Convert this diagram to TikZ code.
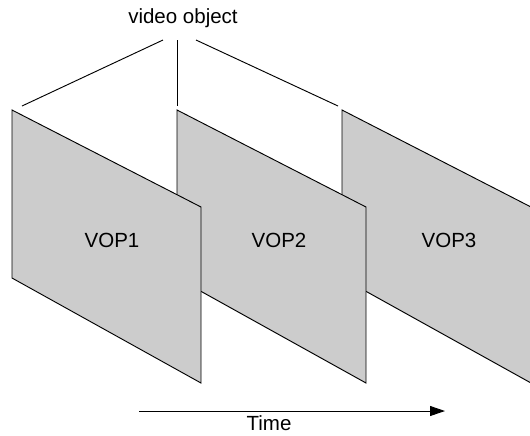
\documentclass[tikz,border=0pt]{standalone}
\usepackage{fontspec}
\setmainfont{Liberation Sans}
\usetikzlibrary{arrows.meta,positioning}
\tikzset{
  panel/.style={draw=black, fill=black!20, line width=0.8pt, line join=miter},
  lbl/.style={font=\fontsize{17.5}{20}\selectfont, inner sep=0pt},
  link/.style={line width=0.8pt},
  timearrow/.style={-{Triangle[length=4.5mm,width=3mm]}, line width=0.8pt}
}
\begin{document}
\begin{tikzpicture}[x=0.03cm, y=-0.03cm]
\useasboundingbox (0,0) rectangle (530,435);
% panels, back to front
\draw[panel] (342,110) coordinate (p3) -- (531,207) -- (531,383) -- (342,278) -- cycle;
\draw[panel] (177,110) coordinate (p2) -- (366,207) -- (366,383) -- (177,278) -- cycle;
\draw[panel] (12,110) coordinate (p1) -- (201,207) -- (201,383) -- (12,278) -- cycle;
\node[lbl] (vop1) at (112,240) {VOP1};
\node[lbl] (vop2) at (279,240) {VOP2};
\node[lbl] (vop3) at (449,240) {VOP3};
% video object
\node[lbl] (vo) at (183,18) {video object};
\coordinate (vl) at (163,40);
\coordinate (vm) at (177,40);
\coordinate (vr) at (196,40);
\coordinate (el) at (22,106);
\coordinate (em) at (177,106);
\coordinate (er) at (338,106);
\draw[link] (vl) -- (el);
\draw[link] (vm) -- (em);
\draw[link] (vr) -- (er);
% time
\coordinate (t0) at (139,411);
\coordinate (t1) at (445,411);
\draw[timearrow] (t0) -- (t1);
\node[lbl] (time) at (269,423) {Time};
\end{tikzpicture}
\end{document}
